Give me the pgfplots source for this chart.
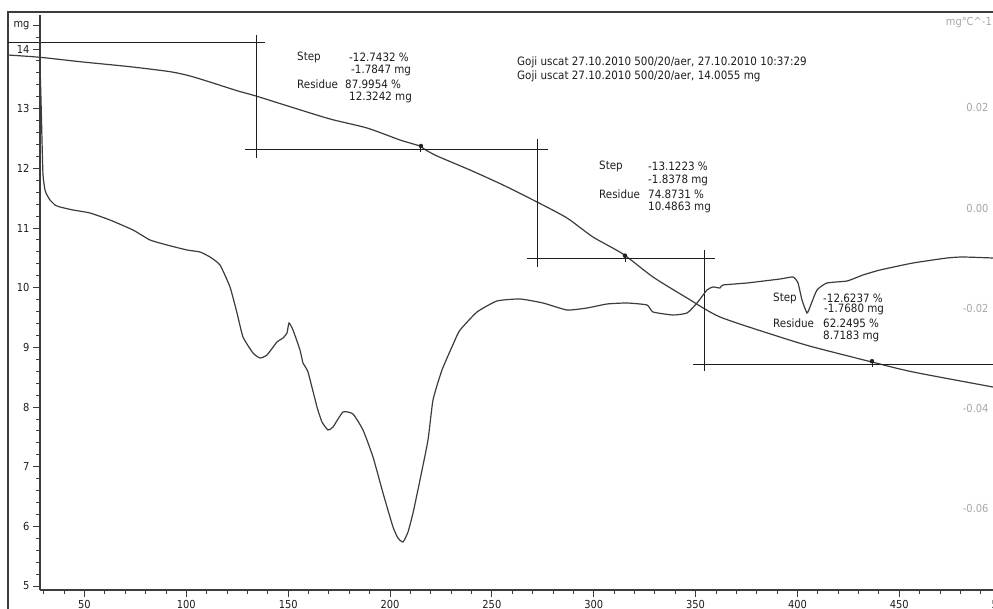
\documentclass[border=0pt]{standalone}
\usepackage{fontspec}
\setmainfont{DejaVu Sans Condensed}
\usepackage{pgfplots}
\pgfplotsset{compat=1.18}

\definecolor{curve}{HTML}{3C3C3C}
\definecolor{ink}{HTML}{1E1E1E}
\definecolor{rlab}{HTML}{A8A8A8}

% TG curve: temperature (degC), mass (mg)
\pgfplotstableread{
T mg
12.445 13.899
28.154 13.861
47.79 13.787
72.34 13.703
91.97 13.620
101.79 13.548
113.08 13.430
124.87 13.301
134.19 13.212
150.88 13.033
170.52 12.827
188.68 12.676
204.89 12.475
214.70 12.374
217.16 12.315
223.05 12.207
239.25 11.972
255.45 11.721
272.14 11.436
286.86 11.168
299.63 10.849
314.36 10.564
329.09 10.179
345.78 9.827
361.98 9.509
391.43 9.173
407.63 9.006
436.60 8.754
456.73 8.587
496.00 8.335
499.44 8.310
}\tgdata

% DTG curve: temperature (degC), dm/dT (mg/degC)
\pgfplotstableread{
T d
28.154 0.0288
28.65 0.0216
29.14 0.0136
29.63 0.0066
30.61 0.0036
31.59 0.0026
33.06 0.0016
35.52 0.0006
37.97 0.0002
44.35 -0.0004
52.70 -0.0010
62.52 -0.0024
73.81 -0.0044
82.16 -0.0064
90.50 -0.0074
100.32 -0.0084
106.70 -0.0088
111.61 -0.0098
116.52 -0.0114
121.43 -0.0158
124.87 -0.0210
127.81 -0.0258
132.72 -0.0290
136.16 -0.0300
139.59 -0.0294
144.50 -0.0268
147.45 -0.0260
149.41 -0.0250
150.39 -0.0230
152.36 -0.0244
155.79 -0.0284
157.27 -0.0310
159.72 -0.0328
164.14 -0.0398
166.59 -0.0428
169.54 -0.0444
171.99 -0.0438
176.90 -0.0408
181.81 -0.0412
186.72 -0.0444
191.63 -0.0498
196.54 -0.0570
201.45 -0.0638
203.90 -0.0660
206.36 -0.0668
208.81 -0.0648
211.27 -0.0610
214.70 -0.0544
218.63 -0.0464
221.09 -0.0384
225.50 -0.0324
231.89 -0.0264
234.37 -0.0244
242.69 -0.0208
252.50 -0.0186
263.79 -0.0182
275.09 -0.0190
286.86 -0.0204
296.68 -0.0200
306.50 -0.0192
316.32 -0.0190
326.14 -0.0194
329.09 -0.0208
338.90 -0.0214
345.78 -0.0210
350.69 -0.0190
355.60 -0.0164
358.54 -0.0158
361.98 -0.0160
363.45 -0.0154
375.23 -0.0150
391.43 -0.0142
397.82 -0.0138
400.27 -0.0150
402.23 -0.0184
404.69 -0.0210
406.16 -0.0198
409.60 -0.0164
414.51 -0.0150
424.33 -0.0146
432.18 -0.0134
440.53 -0.0124
456.73 -0.0110
473.42 -0.0100
481.27 -0.0098
496.00 -0.0100
499.44 -0.0100
}\dtgdata

\begin{document}
\begin{tikzpicture}[x=1pt,y=1pt]
\clip (0,0) rectangle (993,608);
\fill[white] (0,0) rectangle (993,608);

% outer frame with TG curve and step evaluation
\begin{axis}[name=frame, at={(8pt,-7pt)}, anchor=south west,
  scale only axis, width=992pt, height=603pt,
  xmin=12.445, xmax=499.44, ymin=4.5145, ymax=14.620,
  axis line style={draw=curve, line width=1.1pt}, ticks=none]
  \addplot[curve, line width=1.2pt, smooth, tension=0.4] table[x=T, y=mg] {\tgdata};
  % step 1
  \addplot[ink, line width=0.9pt] coordinates {(12.445,14.1089) (138.61,14.1089)};
  \addplot[ink, line width=0.9pt] coordinates {(134.19,14.235) (134.19,12.173)};
  \addplot[ink, line width=0.9pt] coordinates {(128.79,12.3242) (277.54,12.3242)};
  % step 2
  \addplot[ink, line width=0.9pt] coordinates {(272.14,12.492) (272.14,10.347)};
  \addplot[ink, line width=0.9pt] coordinates {(267.22,10.4863) (359.52,10.4863)};
  % step 3
  \addplot[ink, line width=0.9pt] coordinates {(354.12,10.631) (354.12,8.604)};
  \addplot[ink, line width=0.9pt] coordinates {(348.72,8.7183) (499.44,8.7183)};
  % residue markers
  \addplot[ink, only marks, mark=|, mark size=3pt, mark options={line width=1pt}]
    coordinates {(215.19,12.3242) (315.34,10.4863) (436.60,8.7183)};
  \addplot[ink, only marks, mark=*, mark size=2pt, mark options={yshift=3pt}]
    coordinates {(215.19,12.3242) (315.34,10.4863) (436.60,8.7183)};
\end{axis}

% DTG curve on the right-hand scale
\begin{axis}[at={(8pt,-7pt)}, anchor=south west,
  scale only axis, width=992pt, height=603pt,
  xmin=12.445, xmax=499.44, ymin=-0.0814, ymax=0.0392,
  hide x axis, axis y line*=right, y axis line style={draw=none},
  ytick={-0.06,-0.04,-0.02,0,0.02},
  yticklabels={-0.06,-0.04,-0.02,0.00,0.02},
  major tick length=0pt,
  yticklabel style={anchor=east, xshift=-8pt, text=rlab,
    font=\fontsize{11}{13}\selectfont}]
  \addplot[curve, line width=1.2pt, smooth, tension=0.3] table[x=T, y=d] {\dtgdata};
\end{axis}

% temperature and mass scales
\begin{axis}[at={(40pt,18pt)}, anchor=south west,
  scale only axis, width=970pt, height=575pt,
  xmin=28.154, xmax=504.35, ymin=4.9335, ymax=14.5698,
  axis x line=bottom, axis y line=left,
  axis line style={-, draw=curve, line width=1.1pt},
  tick align=outside, major tick length=7pt, minor tick length=4pt,
  tick style={draw=curve, line width=0.9pt},
  xtick={50,100,...,500}, minor xtick={30,40,...,500},
  ytick={5,6,...,14}, minor ytick={5,5.2,...,14.3},
  extra y ticks={14.4}, extra y tick labels={mg},
  /pgf/number format/assume math mode=true,
  ticklabel style={font=\fontsize{11}{13}\selectfont, text=ink}]
  \addplot[draw=none] coordinates {(100,10)};
\end{axis}

\node[anchor=east, inner sep=0, text=rlab, font=\fontsize{11}{13}\selectfont] at (992,585) {mg°C\textasciicircum-1};

\begin{scope}[every node/.style={anchor=west, inner sep=0, text=ink, font=\fontsize{11.5}{13}\selectfont}]
\node at (517,546) {Goji uscat 27.10.2010 500/20/aer, 27.10.2010 10:37:29};
\node at (517,532) {Goji uscat 27.10.2010 500/20/aer, 14.0055 mg};

\node at (297,550.7) {Step};
\node at (349,550.7) {-12.7432 \%};
\node at (351,537.3) {-1.7847 mg};
\node at (297,524) {Residue};
\node at (345,524) {87.9954 \%};
\node at (349,510.3) {12.3242 mg};

\node at (599,442) {Step};
\node at (648,442) {-13.1223 \%};
\node at (648,428) {-1.8378 mg};
\node at (599,414) {Residue};
\node at (648,414) {74.8731 \%};
\node at (648,400.5) {10.4863 mg};

\node at (773,310) {Step};
\node at (823,310) {-12.6237 \%};
\node at (824,298.5) {-1.7680 mg};
\node at (773,285) {Residue};
\node at (823,285) {62.2495 \%};
\node at (823,272) {8.7183 mg};
\end{scope}
\end{tikzpicture}
\end{document}
